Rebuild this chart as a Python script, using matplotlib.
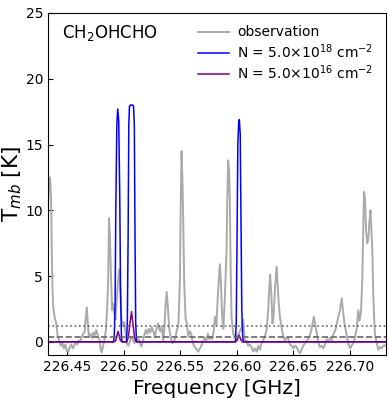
import numpy as np
import matplotlib
matplotlib.use('Agg')
import matplotlib.pyplot as plt

obs_freq = [226.4328, 226.4337, 226.4346, 226.4352, 226.4357, 226.4361, 226.4368, 226.4374, 226.4388, 226.4401,
            226.4414, 226.4427, 226.4441, 226.4454, 226.4467, 226.4481, 226.4494, 226.4507, 226.4520, 226.4534,
            226.4547, 226.4560, 226.4574, 226.4587, 226.4600, 226.4613, 226.4627, 226.4640, 226.4653, 226.4662,
            226.4671, 226.4680, 226.4689, 226.4702, 226.4715, 226.4728, 226.4742, 226.4755, 226.4768, 226.4782,
            226.4795, 226.4804, 226.4813, 226.4826, 226.4839, 226.4851, 226.4860, 226.4868, 226.4876, 226.4883,
            226.4895, 226.4906, 226.4914, 226.4925, 226.4937, 226.4945, 226.4957, 226.4966, 226.4976, 226.4990,
            226.5003, 226.5016, 226.5025, 226.5038, 226.5052, 226.5065, 226.5078, 226.5092, 226.5105, 226.5118,
            226.5131, 226.5145, 226.5155, 226.5167, 226.5180, 226.5193, 226.5207, 226.5220, 226.5233, 226.5247,
            226.5260, 226.5273, 226.5286, 226.5302, 226.5313, 226.5322, 226.5335, 226.5347, 226.5357, 226.5368,
            226.5378, 226.5388, 226.5402, 226.5415, 226.5428, 226.5441, 226.5455, 226.5468, 226.5481, 226.5495,
            226.5503, 226.5510, 226.5517, 226.5524, 226.5533, 226.5545, 226.5557, 226.5570, 226.5583, 226.5596,
            226.5610, 226.5623, 226.5636, 226.5657, 226.5672, 226.5685, 226.5698, 226.5716, 226.5729, 226.5743,
            226.5756, 226.5769, 226.5782, 226.5796, 226.5805, 226.5818, 226.5834, 226.5849, 226.5858, 226.5869,
            226.5880, 226.5893, 226.5908, 226.5915, 226.5922, 226.5930, 226.5937, 226.5944, 226.5952, 226.5967,
            226.5982, 226.5995, 226.6008, 226.6026, 226.6041, 226.6055, 226.6070, 226.6085, 226.6099, 226.6114,
            226.6129, 226.6144, 226.6159, 226.6174, 226.6188, 226.6203, 226.6218, 226.6232, 226.6247, 226.6262,
            226.6277, 226.6285, 226.6294, 226.6305, 226.6314, 226.6323, 226.6336, 226.6351, 226.6362, 226.6371,
            226.6380, 226.6393, 226.6407, 226.6424, 226.6438, 226.6451, 226.6469, 226.6484, 226.6498, 226.6513,
            226.6528, 226.6542, 226.6557, 226.6572, 226.6586, 226.6602, 226.6617, 226.6631, 226.6646, 226.6661,
            226.6672, 226.6681, 226.6695, 226.6708, 226.6721, 226.6734, 226.6749, 226.6764, 226.6779, 226.6794,
            226.6808, 226.6823, 226.6838, 226.6852, 226.6867, 226.6882, 226.6896, 226.6912, 226.6927, 226.6938,
            226.6951, 226.6965, 226.6982, 226.7000, 226.7015, 226.7029, 226.7044, 226.7059, 226.7074, 226.7084,
            226.7097, 226.7109, 226.7117, 226.7124, 226.7133, 226.7142, 226.7153, 226.7162, 226.7171, 226.7182,
            226.7190, 226.7199, 226.7206, 226.7213, 226.7221, 226.7237, 226.7251, 226.7266, 226.7281, 226.7295,
            226.7310, 226.7319]
obs_T = [10.5, 12.4, 12.5, 11.5, 10.0, 7.0, 4.0, 2.7, 1.8, 1.4,
         0.4, 0.1, -0.3, 0.0, -0.5, -0.2, -0.7, -0.75, -0.4, -0.2,
         -0.5, -0.3, 0.0, -0.2, 0.1, 0.0, 0.4, 0.6, 0.8, 1.8,
         2.6, 1.5, 0.4, 0.6, 0.3, 0.7, 0.5, 0.9, 0.5, 0.2,
         -0.6, -0.8, -0.4, 0.1, 0.8, 2.5, 4.5, 9.4, 8.0, 5.7,
         2.4, 2.9, 2.2, 1.7, 3.2, 4.3, 5.5, 4.2, 1.9, 1.2,
         1.5, 0.5, -0.1, -0.3, 0.0, 0.4, 0.2, -0.1, 0.3, 0.1,
         0.2, -0.2, -0.35, 0.0, 0.5, 0.9, 0.6, 1.0, 0.7, 1.1,
         0.8, 0.4, 0.9, 1.4, 1.0, 0.8, 1.2, 0.1, 0.9, 2.7,
         3.8, 2.7, 0.9, 0.3, -0.1, 0.0, 0.3, 0.9, 1.2, 4.5,
         10.8, 14.5, 12.5, 9.5, 4.5, 1.8, 1.4, 0.4, 0.8, 0.6,
         -0.1, -0.35, -0.5, -0.75, -0.5, -0.3, 0.0, 0.3, 0.1, 0.6,
         0.2, 0.4, 0.2, 0.9, 1.9, 1.3, 4.0, 5.9, 4.5, 1.9,
         1.0, 3.4, 7.0, 11.0, 13.8, 13.0, 10.8, 5.8, 1.9, 0.6,
         0.4, 0.2, 0.5, 0.8, 1.1, 1.7, 0.0, 0.1, -0.3, -0.2,
         -0.4, -0.75, -0.5, -0.75, -0.3, -0.6, -0.1, 0.1, 0.4, 0.9,
         2.4, 4.0, 5.1, 3.5, 1.4, 1.8, 4.0, 5.7, 4.0, 2.8,
         1.9, 1.2, 0.5, 0.1, 0.3, 0.3, -0.2, -0.3, -0.5, -0.3,
         -0.4, -0.7, -0.85, -0.6, -0.3, -0.1, 0.1, 0.2, 0.5, 1.0,
         1.5, 1.9, 1.2, 0.6, -0.1, -0.4, -0.3, -0.5, -0.2, 0.2,
         0.0, 0.3, 0.1, 0.6, 0.8, 1.3, 1.9, 2.4, 3.3, 2.4,
         1.4, 0.8, 0.0, -0.5, -0.3, -0.1, 0.3, 1.0, 2.4, 1.6,
         2.2, 4.7, 8.5, 11.4, 11.0, 8.5, 7.5, 7.8, 9.0, 10.0,
         8.5, 6.7, 3.7, 2.0, 0.6, -0.1, -0.6, -0.4, -0.5, -0.3,
         -0.3, -0.2]

# model N = 5.0e18 cm^-2
hi_freq = [226.4328, 226.4906, 226.4914, 226.4922, 226.4928, 226.4937, 226.4945, 226.4954, 226.4963, 226.4970,
           226.4978, 226.4985, 226.5023, 226.5030, 226.5037, 226.5043, 226.5049, 226.5056, 226.5078, 226.5085,
           226.5092, 226.5098, 226.5104, 226.5111, 226.5986, 226.5994, 226.6001, 226.6008, 226.6015, 226.6021,
           226.6029, 226.6036, 226.6043, 226.6051, 226.6058, 226.7319]
hi_T = [0, 0, 0.3, 3, 10, 16.5, 17.7, 16.8, 11, 4,
        0.3, 0, 0, 1.5, 8, 16.5, 17.9, 18.0, 18.0, 17.9,
        16.5, 8, 1.5, 0, 0, 1.5, 8, 15, 16.6, 16.9,
        15.8, 9, 2.5, 0.3, 0, 0]

# model N = 5.0e16 cm^-2
lo_freq = [226.4328, 226.4914, 226.4928, 226.4939, 226.4948, 226.4957, 226.4968, 226.4981, 226.5025, 226.5038,
           226.5052, 226.5067, 226.5081, 226.5094, 226.5108, 226.5990, 226.6004, 226.6020, 226.6035, 226.6048,
           226.7319]
lo_T = [0, 0, 0.1, 0.5, 0.8, 0.5, 0.1, 0, 0, 0.3,
        1.3, 2.3, 1.3, 0.3, 0, 0, 0.15, 0.5, 0.15, 0,
        0]

rms = 0.39
xticks = [226.45, 226.50, 226.55, 226.60, 226.65, 226.70]

fig = plt.figure(figsize=(3.89, 4.05), dpi=100)
ax = fig.add_axes([0.1234, 0.1235, 0.8689, 0.8445])

ax.plot(obs_freq, obs_T, color='#aaaaaa', lw=1.4, label='observation')
ax.plot(hi_freq, hi_T, color='blue', lw=1.1, label=r'N = 5.0$\times$10$^{18}$ cm$^{-2}$')
ax.plot(lo_freq, lo_T, color='purple', lw=1.1, label=r'N = 5.0$\times$10$^{16}$ cm$^{-2}$')
ax.axhline(rms, color='#666666', ls='--', lw=1.2)
ax.axhline(3 * rms, color='#666666', ls=':', lw=1.2)

ax.set_xlim(226.4328, 226.7319)
ax.set_ylim(-1, 25)
ax.set_xticks(xticks)
ax.set_xticklabels(['%.2f' % t for t in xticks])
ax.set_yticks([0, 5, 10, 15, 20, 25])
ax.tick_params(direction='in', labelsize=10)
ax.set_xlabel('Frequency [GHz]', fontsize=14.5)
ax.set_ylabel(r'T$_{mb}$ [K]', fontsize=15.5)
ax.yaxis.set_label_coords(-0.072, 0.5)

ax.text(0.04, 0.94, r'CH$_2$OHCHO', transform=ax.transAxes, fontsize=12, va='center')
ax.legend(loc='upper right', frameon=False, fontsize=10, handlelength=2.2,
          handletextpad=0.6, borderaxespad=0.5, labelspacing=0.2)

fig.savefig('out.png', dpi=100)
